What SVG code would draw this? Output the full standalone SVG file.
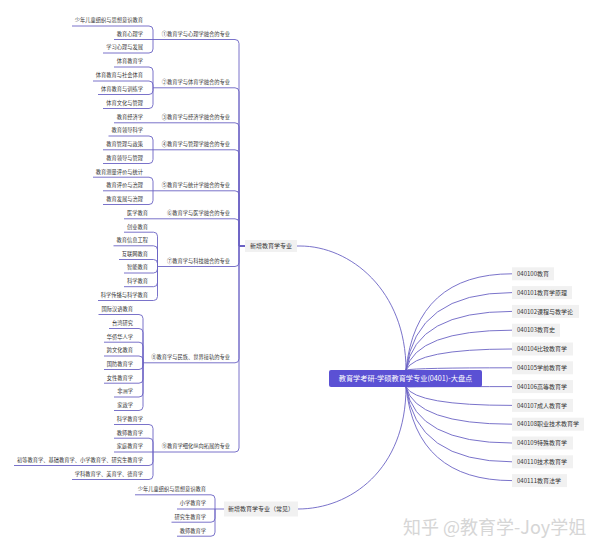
<svg xmlns="http://www.w3.org/2000/svg" width="600" height="553" viewBox="0 0 600 553">
<style>
text{font-family:"Noto Sans CJK SC","Noto Sans",sans-serif;fill:#333}
.ln{fill:none;stroke:#6b63c4;stroke-width:0.9}
.lf{font-size:5.25px;text-anchor:end}
.l2{font-size:5.25px;text-anchor:end}
.box{fill:#f1f1f1}
.rt{font-size:6px}
.mt{font-size:6px;text-anchor:middle}
</style>
<rect width="600" height="553" fill="#fff"/>
<g id="connectors">
<path class="ln" d="M297,246 H300 C350,246 406,290 406,370"/>
<path class="ln" d="M298,509 C350,509 406,470 406,387"/>
<path class="ln" d="M406,370 Q416,273.8 512,273.8"/>
<path class="ln" d="M406,370 Q416,292.6 512,292.6"/>
<path class="ln" d="M406,370 Q416,311.4 512,311.4"/>
<path class="ln" d="M406,370 Q416,330.2 512,330.2"/>
<path class="ln" d="M406,370 Q416,349 512,349"/>
<path class="ln" d="M406,370 Q416,367.8 512,367.8"/>
<path class="ln" d="M406,387 Q416,386.6 512,386.6"/>
<path class="ln" d="M406,387 Q416,405.4 512,405.4"/>
<path class="ln" d="M406,387 Q416,424.2 512,424.2"/>
<path class="ln" d="M406,387 Q416,443 512,443"/>
<path class="ln" d="M406,387 Q416,461.8 512,461.8"/>
<path class="ln" d="M406,387 Q416,480.6 512,480.6"/>
<!-- spine -->
<path class="ln" d="M245,246 H239 V43.5 Q239,39.5 235,39.5 H153"/>
<path class="ln" d="M245,246 H239 V91.8 Q239,87.8 235,87.8 H153"/>
<path class="ln" d="M245,246 H239 V126.8 Q239,122.8 235,122.8 H114"/>
<path class="ln" d="M245,246 H239 V153.8 Q239,149.8 235,149.8 H153"/>
<path class="ln" d="M245,246 H239 V194.8 Q239,190.8 235,190.8 H153"/>
<path class="ln" d="M245,246 H239 V222.8 Q239,218.8 235,218.8 H124"/>
<path class="ln" d="M245,246 H239 V262.5 Q239,266.5 235,266.5 H157.5"/>
<path class="ln" d="M245,246 H239 V358.8 Q239,362.8 235,362.8 H143"/>
<path class="ln" d="M245,246 H239 V448 Q239,452 235,452 H153"/>
<!-- group 1 -->
<path class="ln" d="M153,39.5 V30 Q153,26 149,26 H72"/>
<path class="ln" d="M153,39.5 H114"/>
<path class="ln" d="M153,39.5 V49 Q153,53 149,53 H103"/>
<!-- group 2 -->
<path class="ln" d="M153,87.8 V71 Q153,67 149,67 H114"/>
<path class="ln" d="M153,87.8 V85 Q153,81 149,81 H93"/>
<path class="ln" d="M153,87.8 V90.5 Q153,94.5 149,94.5 H98"/>
<path class="ln" d="M153,87.8 V104.5 Q153,108.5 149,108.5 H103"/>
<!-- group 4 -->
<path class="ln" d="M153,149.8 V140 Q153,136 149,136 H108.5"/>
<path class="ln" d="M153,149.8 H103"/>
<path class="ln" d="M153,149.8 V159.5 Q153,163.5 149,163.5 H103"/>
<!-- group 5 -->
<path class="ln" d="M153,190.8 V181.2 Q153,177.2 149,177.2 H93"/>
<path class="ln" d="M153,190.8 H103"/>
<path class="ln" d="M153,190.8 V200.5 Q153,204.5 149,204.5 H103"/>
<!-- group 7 -->
<path class="ln" d="M157.5,266.5 V236.2 Q157.5,232.2 153.5,232.2 H124"/>
<path class="ln" d="M157.5,266.5 V249.8 Q157.5,245.8 153.5,245.8 H113.5"/>
<path class="ln" d="M157.5,266.5 V263.5 Q157.5,259.5 153.5,259.5 H119"/>
<path class="ln" d="M157.5,266.5 V269 Q157.5,273 153.5,273 H124"/>
<path class="ln" d="M157.5,266.5 V282.7 Q157.5,286.7 153.5,286.7 H124"/>
<path class="ln" d="M157.5,266.5 V296.5 Q157.5,300.5 153.5,300.5 H98"/>
<!-- group 8 -->
<path class="ln" d="M143,362.8 V318.5 Q143,314.5 139,314.5 H98.5"/>
<path class="ln" d="M143,362.8 V332.5 Q143,328.5 139,328.5 H109"/>
<path class="ln" d="M143,362.8 V346.2 Q143,342.2 139,342.2 H104"/>
<path class="ln" d="M143,362.8 V360 Q143,356 139,356 H104"/>
<path class="ln" d="M143,362.8 V365.5 Q143,369.5 139,369.5 H104"/>
<path class="ln" d="M143,362.8 V379.2 Q143,383.2 139,383.2 H104"/>
<path class="ln" d="M143,362.8 V393 Q143,397 139,397 H114"/>
<path class="ln" d="M143,362.8 V406.5 Q143,410.5 139,410.5 H114"/>
<!-- group 9 -->
<path class="ln" d="M153,452 V428.5 Q153,424.5 149,424.5 H114"/>
<path class="ln" d="M153,452 V442.2 Q153,438.2 149,438.2 H114"/>
<path class="ln" d="M153,452 H114"/>
<path class="ln" d="M153,452 V461.5 Q153,465.5 149,465.5 H14"/>
<path class="ln" d="M153,452 V475.5 Q153,479.5 149,479.5 H72"/>
<!-- bottom group -->
<path class="ln" d="M224,509 H215 V498.8 Q215,494.8 211,494.8 H135"/>
<path class="ln" d="M215,509 H177"/>
<path class="ln" d="M215,509 V518.2 Q215,522.2 211,522.2 H171.5"/>
<path class="ln" d="M215,509 V532.2 Q215,536.2 211,536.2 H177"/>
</g>
<g id="center">
<rect x="329" y="370" width="153" height="17" rx="2" fill="#5b51d4"/>
<text x="405.5" y="381" style="font-size:7.2px;text-anchor:middle;fill:#fff">教育学考研-学硕教育学专业(0401)-大盘点</text>
</g>
<g id="right-nodes">
<g id="n040100"><rect class="box" x="512" y="267.3" width="42" height="13"/><text class="rt" x="517" y="275.9">040100教育</text></g>
<g id="n040101"><rect class="box" x="512" y="286.1" width="60" height="13"/><text class="rt" x="517" y="294.7">040101教育学原理</text></g>
<g id="n040102"><rect class="box" x="512" y="304.9" width="67" height="13"/><text class="rt" x="517" y="313.5">040102课程与教学论</text></g>
<g id="n040103"><rect class="box" x="512" y="323.7" width="48" height="13"/><text class="rt" x="517" y="332.3">040103教育史</text></g>
<g id="n040104"><rect class="box" x="512" y="342.5" width="61" height="13"/><text class="rt" x="517" y="351.1">040104比较教育学</text></g>
<g id="n040105"><rect class="box" x="512" y="361.3" width="61" height="13"/><text class="rt" x="517" y="369.9">040105学前教育学</text></g>
<g id="n040106"><rect class="box" x="512" y="380.1" width="61" height="13"/><text class="rt" x="517" y="388.7">040106高等教育学</text></g>
<g id="n040107"><rect class="box" x="512" y="398.9" width="61" height="13"/><text class="rt" x="517" y="407.5">040107成人教育学</text></g>
<g id="n040108"><rect class="box" x="512" y="417.7" width="72" height="13"/><text class="rt" x="517" y="426.3">040108职业技术教育学</text></g>
<g id="n040109"><rect class="box" x="512" y="436.5" width="61" height="13"/><text class="rt" x="517" y="445.1">040109特殊教育学</text></g>
<g id="n040110"><rect class="box" x="512" y="455.3" width="61" height="13"/><text class="rt" x="517" y="463.9">040110技术教育学</text></g>
<g id="n040111"><rect class="box" x="512" y="474.1" width="55" height="13"/><text class="rt" x="517" y="482.7">040111教育法学</text></g>
</g>
<g id="new-major">
<rect class="box" x="245" y="240" width="52" height="12"/>
<text class="mt" x="271" y="248.1">新增教育学专业</text>
</g>
<g id="new-major-common">
<rect class="box" x="224" y="501.5" width="74" height="15"/>
<text class="mt" x="261" y="511.1">新增教育学专业（常见）</text>
</g>
<g id="level2">
<text class="l2" x="230" y="35.9">①教育学与心理学融合的专业</text>
<text class="l2" x="230" y="84.2">②教育学与体育学融合的专业</text>
<text class="l2" x="230" y="119.2">③教育学与经济学融合的专业</text>
<text class="l2" x="230" y="146.2">④教育学与管理学融合的专业</text>
<text class="l2" x="230" y="187.2">⑤教育学与统计学融合的专业</text>
<text class="l2" x="230" y="215.2">⑥教育学与医学融合的专业</text>
<text class="l2" x="230" y="262.9">⑦教育学与科技融合的专业</text>
<text class="l2" x="230" y="359.2">⑧教育学与民族、世界接轨的专业</text>
<text class="l2" x="230" y="448.4">⑨教育学细化纵向拓展的专业</text>
</g>
<g id="leaves">
<text class="lf" x="143" y="22.4">少年儿童组织与思想意识教育</text>
<text class="lf" x="143" y="35.9">教育心理学</text>
<text class="lf" x="143" y="49.4">学习心理与发展</text>
<text class="lf" x="143" y="63.4">体育教育学</text>
<text class="lf" x="143" y="77.4">体育教育与社会体育</text>
<text class="lf" x="143" y="90.9">体育教育与训练学</text>
<text class="lf" x="143" y="104.9">体育文化与管理</text>
<text class="lf" x="143" y="119.2">教育经济学</text>
<text class="lf" x="143" y="132.4">教育领导科学</text>
<text class="lf" x="143" y="146.2">教育管理与政策</text>
<text class="lf" x="143" y="159.9">教育领导与管理</text>
<text class="lf" x="143" y="173.6">教育测量评价与统计</text>
<text class="lf" x="143" y="187.2">教育评价与治理</text>
<text class="lf" x="143" y="200.9">教育发展与治理</text>
<text class="lf" x="148" y="215.2">医学教育</text>
<text class="lf" x="148" y="228.6">创业教育</text>
<text class="lf" x="148" y="242.2">教育信息工程</text>
<text class="lf" x="148" y="255.9">互联网教育</text>
<text class="lf" x="148" y="269.4">智能教育</text>
<text class="lf" x="148" y="283.1">科学教育</text>
<text class="lf" x="148" y="296.9">科学传播与科学教育</text>
<text class="lf" x="133" y="310.9">国际汉语教育</text>
<text class="lf" x="133" y="324.9">台湾研究</text>
<text class="lf" x="133" y="338.6">华侨华人学</text>
<text class="lf" x="133" y="352.4">跨文化教育</text>
<text class="lf" x="133" y="365.9">国防教育学</text>
<text class="lf" x="133" y="379.6">女性教育学</text>
<text class="lf" x="133" y="393.4">非洲学</text>
<text class="lf" x="133" y="406.9">家政学</text>
<text class="lf" x="143" y="420.9">科学教育学</text>
<text class="lf" x="143" y="434.6">教师教育学</text>
<text class="lf" x="143" y="448.4">家庭教育学</text>
<text class="lf" x="143" y="461.9">初等教育学、基础教育学、小学教育学、研究生教育学</text>
<text class="lf" x="143" y="475.9">学科教育学、美育学、德育学</text>
<text class="lf" x="206" y="491.2">少年儿童组织与思想意识教育</text>
<text class="lf" x="206" y="505.4">小学教育学</text>
<text class="lf" x="206" y="518.6">研究生教育学</text>
<text class="lf" x="206" y="532.6">教师教育学</text>
</g>
<text x="403" y="534" style="font-size:18px;fill:#d6d6d6">知乎 @教育学-Joy学姐</text>
</svg>
